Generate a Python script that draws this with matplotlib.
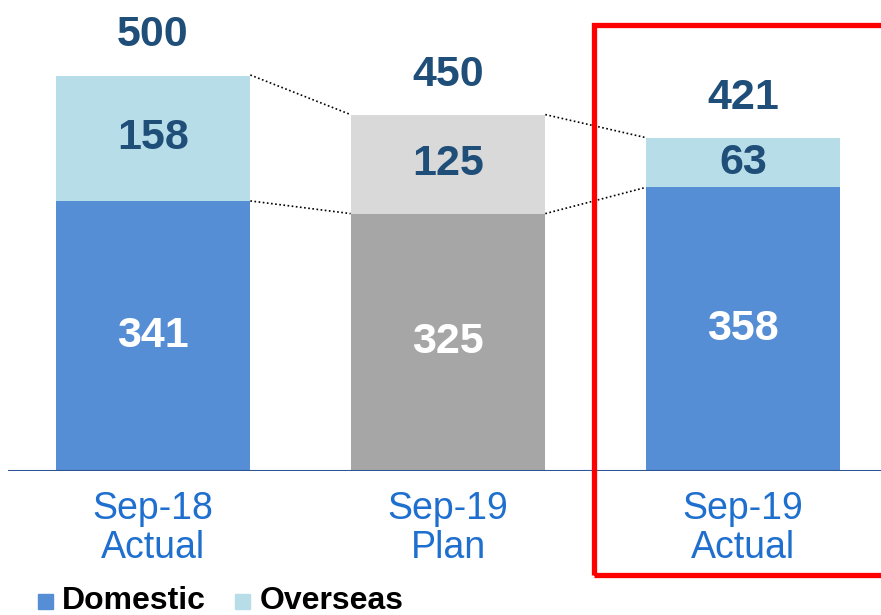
import matplotlib.pyplot as plt
from matplotlib.patches import Rectangle

plt.rcParams['font.family'] = ['Liberation Sans', 'DejaVu Sans']

categories = ['Sep-18\nActual', 'Sep-19\nPlan', 'Sep-19\nActual']
domestic = [341, 325, 358]
overseas = [158, 125, 63]
totals = [500, 450, 421]

dom_colors = ['#558ED5', '#A6A6A6', '#558ED5']
ovs_colors = ['#B7DEE8', '#D9D9D9', '#B7DEE8']
navy = '#1F4E79'
width = 0.66

fig = plt.figure(figsize=(8.81, 6.15), dpi=100)
ax = fig.add_axes([8 / 881, 1 - 471 / 615, 873 / 881, 471 / 615])

x = list(range(len(categories)))
ax.bar(x, domestic, width=width, color=dom_colors, zorder=2)
ax.bar(x, overseas, width=width, bottom=domestic, color=ovs_colors, zorder=2)

for i in x:
    ax.text(i, domestic[i] / 2, str(domestic[i]), ha='center', va='center',
            color='white', fontsize=31, fontweight='bold')
    ax.text(i, domestic[i] + overseas[i] / 2, str(overseas[i]), ha='center',
            va='center', color=navy, fontsize=31, fontweight='bold')
    ax.text(i, totals[i] + 50, str(totals[i]), ha='center', va='center',
            color=navy, fontsize=31, fontweight='bold')
    ax.text(i, -73, categories[i], ha='center', va='center', color='#1F6FCF',
            fontsize=27, linespacing=1.1)

# dotted connectors between bars
for i in range(len(x) - 1):
    r = i + width / 2
    l = i + 1 - width / 2
    ax.plot([r, l], [totals[i], totals[i + 1]], ls=(0, (1, 1.5)), color='black', lw=1.2)
    ax.plot([r, l], [domestic[i], domestic[i + 1]], ls=(0, (1, 1.5)), color='black', lw=1.2)

ax.axhline(0, color='#2F5597', lw=1.5, zorder=3)
ax.set_xlim(-0.4915, 2.468)
ax.set_ylim(0, 594.7)
ax.axis('off')

# highlight box
fig.patches.append(Rectangle((594 / 881, 1 - 575 / 615), 300 / 881, 550 / 615,
                             transform=fig.transFigure, fill=False,
                             edgecolor='#FF0000', lw=3.8, clip_on=False))

# legend
fig.patches.append(Rectangle((38 / 881, 1 - 609 / 615), 15 / 881, 15 / 615,
                             transform=fig.transFigure, color='#558ED5'))
fig.text(62 / 881, 1 - 601 / 615, 'Domestic', fontsize=23, fontweight='bold', va='center')
fig.patches.append(Rectangle((235 / 881, 1 - 609 / 615), 15 / 881, 15 / 615,
                             transform=fig.transFigure, color='#B7DEE8'))
fig.text(260 / 881, 1 - 601 / 615, 'Overseas', fontsize=23, fontweight='bold', va='center')

fig.savefig('out.png', dpi=100)
